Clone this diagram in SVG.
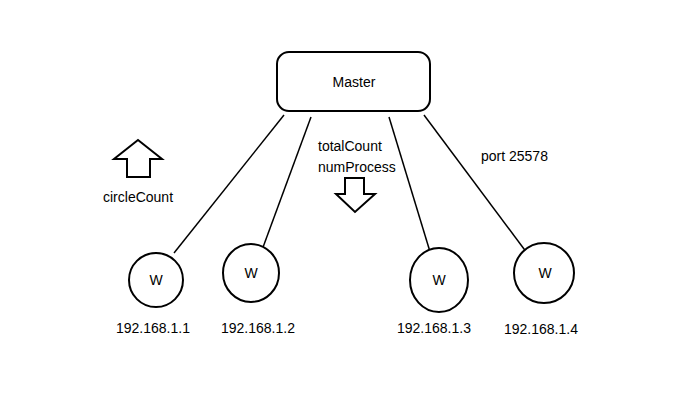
<svg xmlns="http://www.w3.org/2000/svg" width="700" height="400" viewBox="0 0 700 400">
<style>
.s{fill:#fff;stroke:#000;stroke-width:2}
.l{stroke:#000;stroke-width:1.5;fill:none}
text{font-family:"Liberation Sans",Arial,sans-serif;font-size:14px;fill:#000}
.c{text-anchor:middle}
</style>
<rect width="700" height="400" fill="#fff"/>
<g id="connectors">
<line class="l" x1="284" y1="115" x2="174" y2="253"/>
<line class="l" x1="311" y1="117" x2="262" y2="250"/>
<line class="l" x1="389" y1="117" x2="431" y2="255"/>
<line class="l" x1="424" y1="115" x2="527" y2="253"/>
</g>
<g id="master">
<rect class="s" x="277" y="52" width="153" height="59" rx="12"/>
<text class="c" x="354" y="87">Master</text>
</g>
<g id="w1">
<ellipse class="s" cx="156" cy="280" rx="27" ry="27"/>
<text class="c" x="156" y="285">W</text>
<text x="116" y="333">192.168.1.1</text>
</g>
<g id="w2">
<ellipse class="s" cx="251" cy="273" rx="28" ry="29"/>
<text class="c" x="251" y="278">W</text>
<text x="221" y="333">192.168.1.2</text>
</g>
<g id="w3">
<ellipse class="s" cx="439" cy="280" rx="29" ry="32"/>
<text class="c" x="439" y="285">W</text>
<text x="397" y="333">192.168.1.3</text>
</g>
<g id="w4">
<ellipse class="s" cx="544" cy="273" rx="30" ry="30"/>
<text class="c" x="545" y="278">W</text>
<text x="504" y="334">192.168.1.4</text>
</g>
<g id="up-arrow">
<polygon class="s" points="138,140 162,159 150,159 150,177 127,177 127,159 114,159"/>
<text x="103" y="202">circleCount</text>
</g>
<g id="down-arrow">
<polygon class="s" points="345,178 364,178 364,194 375,194 355,212 336,194 345,194"/>
<text x="318" y="151">totalCount</text>
<text x="318" y="172">numProcess</text>
</g>
<text x="481" y="161">port 25578</text>
</svg>
